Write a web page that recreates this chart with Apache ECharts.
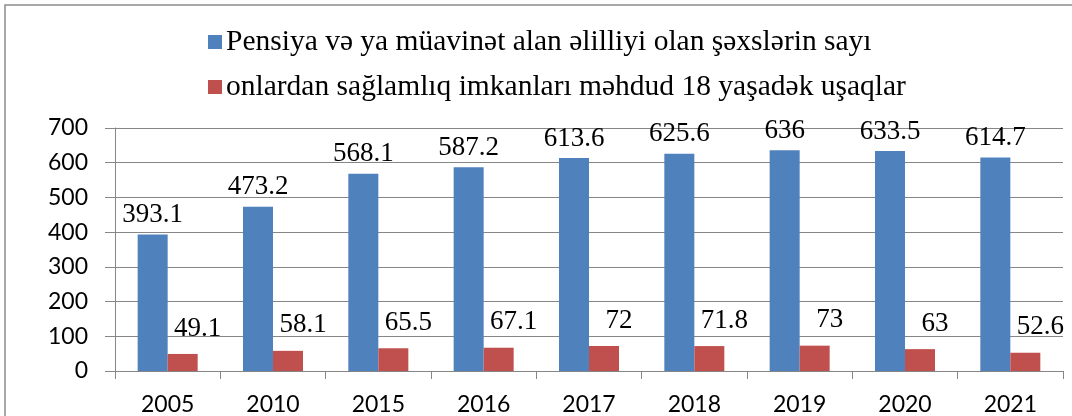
<!DOCTYPE html>
<html>
<head>
<meta charset="utf-8">
<script src="https://cdn.jsdelivr.net/npm/echarts@6/dist/echarts.min.js"></script>
<style>
  html, body { margin: 0; padding: 0; background: #fff; }
  #chart { width: 1072px; height: 416px; }
</style>
</head>
<body>
<div id="chart"></div>
<script>
var years = ['2005', '2010', '2015', '2016', '2017', '2018', '2019', '2020', '2021']
var pensionCount = [393.1, 473.2, 568.1, 587.2, 613.6, 625.6, 636, 633.5, 614.7]
var childCount = [49.1, 58.1, 65.5, 67.1, 72, 71.8, 73, 63, 52.6]
var seriesNames = [
  'Pensiya və ya müavinət alan əlilliyi olan şəxslərin sayı',
  'onlardan sağlamlıq imkanları məhdud 18 yaşadək uşaqlar'
]

var myChart = echarts.init(document.getElementById('chart'))
var serif = '"Liberation Serif", "Times New Roman", serif'
var sans = 'Lato, "Liberation Sans", sans-serif'
var gray = '#868686'

var option = {
  animation: false,
  color: ['#4F81BD', '#C0504D'],
  graphic: [{
    type: 'rect',
    shape: { x: 5, y: 5, width: 1200, height: 600 },
    style: { fill: 'none', stroke: '#8c8c8c', lineWidth: 1.5 },
    silent: true
  }],
  legend: {
    orient: 'vertical',
    left: 203,
    top: 22,
    itemWidth: 14,
    itemHeight: 14,
    itemGap: 15,
    icon: 'rect',
    textStyle: { fontFamily: serif, fontSize: 29.5, color: '#000', padding: [0, 0, 0, -1] },
    data: seriesNames
  },
  grid: {
    left: 115,
    right: 9,
    top: 128,
    bottom: 44
  },
  xAxis: {
    type: 'category',
    data: years,
    axisLine: { lineStyle: { color: gray } },
    axisTick: { show: true, length: 8, lineStyle: { color: gray } },
    axisLabel: { fontFamily: sans, fontSize: 23, color: '#000', margin: 22 },
    splitLine: { show: false }
  },
  yAxis: {
    type: 'value',
    min: 0,
    max: 700,
    interval: 100,
    axisLine: { show: true, lineStyle: { color: gray } },
    axisTick: { show: true, length: 10, lineStyle: { color: gray } },
    axisLabel: { fontFamily: sans, fontSize: 23, color: '#000', margin: 27 },
    splitLine: { lineStyle: { color: gray, width: 1 } }
  },
  series: [
    {
      name: seriesNames[0],
      type: 'bar',
      barWidth: 30,
      barGap: '0%',
      data: pensionCount,
      label: {
        show: true,
        position: 'top',
        distance: 6,
        fontFamily: serif,
        fontSize: 27,
        color: '#000'
      }
    },
    {
      name: seriesNames[1],
      type: 'bar',
      barWidth: 30,
      data: childCount,
      label: {
        show: true,
        position: 'top',
        distance: 12,
        offset: [15, 0],
        fontFamily: serif,
        fontSize: 27,
        color: '#000'
      }
    }
  ]
}

myChart.setOption(option)
</script>
</body>
</html>
